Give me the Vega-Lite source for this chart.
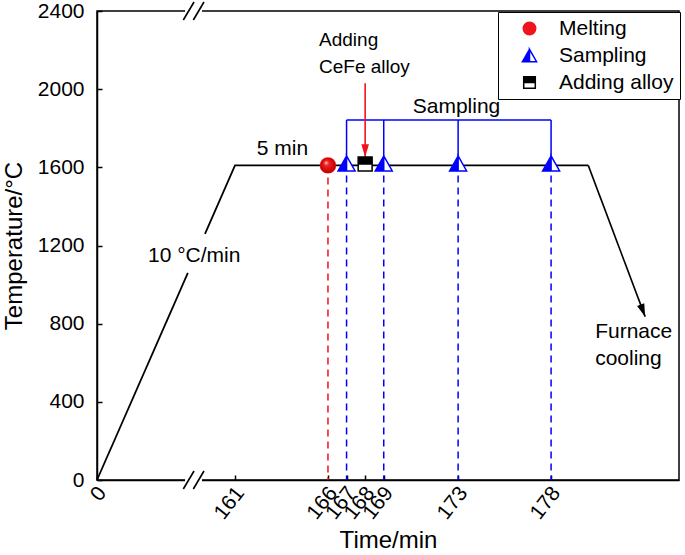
{
  "$schema": "https://vega.github.io/schema/vega-lite/v6.json",
  "width": 582,
  "height": 469,
  "autosize": {"type": "none"},
  "padding": {"left": 97, "top": 11, "right": 6, "bottom": 75},
  "background": "white",
  "config": {
    "font": "Liberation Sans",
    "view": {"stroke": "black", "strokeWidth": 1.5},
    "axis": {
      "grid": false,
      "domainColor": "black",
      "domainWidth": 1.5,
      "tickColor": "black",
      "tickWidth": 1.5,
      "tickSize": -5,
      "labelFont": "Liberation Sans",
      "labelFontSize": 21,
      "labelColor": "black",
      "titleFont": "Liberation Sans",
      "titleFontSize": 24,
      "titleFontWeight": "normal",
      "titleColor": "black",
      "labelOverlap": false,
      "labelFlush": false
    },
    "legend": {"labelFont": "Liberation Sans", "labelFontSize": 21, "labelColor": "black"}
  },
  "datasets": {
    "profile": [
      {"seg": "a", "time": 0, "temp": 0},
      {"seg": "a", "time": 106, "temp": 1060},
      {"seg": "b", "time": 126, "temp": 1260},
      {"seg": "b", "time": 161, "temp": 1610},
      {"seg": "b", "time": 180, "temp": 1610}
    ],
    "events": [
      {"event": "Melting", "time": 166, "temp": 1610},
      {"event": "Sampling", "time": 167, "temp": 1620},
      {"event": "Adding alloy", "time": 168, "temp": 1617},
      {"event": "Sampling", "time": 169, "temp": 1620},
      {"event": "Sampling", "time": 173, "temp": 1620},
      {"event": "Sampling", "time": 178, "temp": 1620}
    ],
    "arrows": [
      {"arrow": "CeFe", "time": 168, "temp": 2030, "time2": 168, "temp2": 1653},
      {"arrow": "cooling", "time": 180, "temp": 1610, "time2": 183.06, "temp2": 836}
    ],
    "notes": [
      {"note": "5 min", "time": 162.17, "temp": 1663},
      {"note": "10 °C/min", "time": 59.5, "temp": 1117},
      {"note": "Sampling", "time": 170.56, "temp": 1879},
      {"note": "Furnace", "time": 180.37, "temp": 725},
      {"note": "cooling", "time": 180.37, "temp": 588}
    ],
    "notesSmall": [
      {"note": "Adding", "time": 165.52, "temp": 2221},
      {"note": "CeFe alloy", "time": 165.52, "temp": 2081}
    ],
    "breakCover": [
      {"time": 102.7, "time2": 122.5, "temp": 2400},
      {"time": 102.7, "time2": 122.5, "temp": 0}
    ],
    "breakSlash": [
      {"time": 100.7, "time2": 113.2, "temp": 2354, "temp2": 2446},
      {"time": 112.4, "time2": 124.8, "temp": 2354, "temp2": 2446},
      {"time": 100.7, "time2": 113.2, "temp": -46, "temp2": 46},
      {"time": 112.4, "time2": 124.8, "temp": -46, "temp2": 46}
    ]
  },
  "layer": [
    {
      "data": {"name": "profile"},
      "mark": {"type": "line", "color": "black", "strokeWidth": 1.8},
      "encoding": {
        "x": {
          "field": "time",
          "type": "quantitative",
          "scale": {"domain": [0, 161, 184.88], "range": [0, 138, 582], "nice": false, "zero": false},
          "axis": {
            "title": "Time/min",
            "values": [0, 161, 166, 167, 168, 169, 173, 178],
            "format": "d",
            "labelAngle": -52,
            "labelAlign": "right",
            "labelBaseline": "middle",
            "labelPadding": 14,
            "labelOffset": 5,
            "titlePadding": 6
          }
        },
        "y": {
          "field": "temp",
          "type": "quantitative",
          "scale": {"domain": [0, 2400], "nice": false},
          "axis": {
            "title": "Temperature/°C",
            "values": [0, 400, 800, 1200, 1600, 2000, 2400],
            "format": "d",
            "labelPadding": 18,
            "titlePadding": 11
          }
        },
        "detail": {"field": "seg", "type": "nominal"}
      }
    },
    {
      "data": {"name": "events"},
      "transform": [{"filter": "datum.event !== 'Adding alloy'"}],
      "mark": {"type": "rule", "strokeWidth": 1.5, "strokeDash": [7, 5]},
      "encoding": {
        "x": {"field": "time", "type": "quantitative"},
        "y": {"field": "temp", "type": "quantitative"},
        "y2": {"datum": 0},
        "stroke": {"condition": {"test": "datum.event === 'Melting'", "value": "#f0141e"}, "value": "#0000ff"}
      }
    },
    {
      "data": {"name": "events"},
      "transform": [{"filter": "datum.event === 'Sampling'"}],
      "mark": {"type": "rule", "color": "#0000ff", "strokeWidth": 1.5},
      "encoding": {
        "x": {"field": "time", "type": "quantitative"},
        "y": {"datum": 1842, "type": "quantitative"},
        "y2": {"datum": 1659}
      }
    },
    {
      "data": {"name": "events"},
      "transform": [
        {"filter": "datum.event === 'Sampling'"},
        {"aggregate": [{"op": "min", "field": "time", "as": "tmin"}, {"op": "max", "field": "time", "as": "tmax"}]}
      ],
      "mark": {"type": "rule", "color": "#0000ff", "strokeWidth": 1.5},
      "encoding": {
        "x": {"field": "tmin", "type": "quantitative"},
        "x2": {"field": "tmax"},
        "y": {"datum": 1842, "type": "quantitative"}
      }
    },
    {
      "data": {"name": "arrows"},
      "mark": {"type": "rule", "strokeWidth": 1.6},
      "encoding": {
        "x": {"field": "time", "type": "quantitative"},
        "x2": {"field": "time2"},
        "y": {"field": "temp", "type": "quantitative"},
        "y2": {"field": "temp2"},
        "stroke": {"condition": {"test": "datum.arrow === 'CeFe'", "value": "#f0141e"}, "value": "black"}
      }
    },
    {
      "data": {"name": "arrows"},
      "mark": {"type": "point", "shape": "M0,0L-0.3,-1L0.3,-1Z", "size": 650, "filled": true, "opacity": 1, "strokeWidth": 0},
      "encoding": {
        "x": {"field": "time2", "type": "quantitative"},
        "y": {"field": "temp2", "type": "quantitative"},
        "fill": {"condition": {"test": "datum.arrow === 'CeFe'", "value": "#f0141e"}, "value": "black"},
        "angle": {"condition": {"test": "datum.arrow === 'cooling'", "value": 339.3}, "value": 0}
      }
    },
    {
      "data": {"name": "events"},
      "transform": [{"filter": "datum.event === 'Sampling'"}],
      "mark": {"type": "point", "shape": "M0,-0.88L1,0.88L-1,0.88Z", "size": 289, "filled": true, "fill": "white", "opacity": 1, "strokeWidth": 0},
      "encoding": {
        "x": {"field": "time", "type": "quantitative"},
        "y": {"field": "temp", "type": "quantitative"}
      }
    },
    {
      "data": {"name": "events"},
      "transform": [{"filter": "datum.event === 'Adding alloy'"}],
      "mark": {"type": "point", "shape": "M-0.82,-0.82L0.82,-0.82L0.82,0.82L-0.82,0.82Z", "size": 289, "filled": true, "fill": "white", "opacity": 1, "strokeWidth": 0},
      "encoding": {
        "x": {"field": "time", "type": "quantitative"},
        "y": {"field": "temp", "type": "quantitative"}
      }
    },
    {
      "data": {"name": "events"},
      "mark": {"type": "point", "filled": true, "size": 289, "strokeWidth": 1.5, "opacity": 1},
      "encoding": {
        "x": {"field": "time", "type": "quantitative"},
        "y": {"field": "temp", "type": "quantitative"},
        "fill": {
          "field": "event",
          "type": "nominal",
          "scale": {"domain": ["Melting", "Sampling", "Adding alloy"], "range": ["#f0141e", "#0000ff", "#000000"]},
          "legend": {"title": null, "orient": "none", "legendX": 401, "legendY": 1, "padding": 6, "rowPadding": 5, "symbolSize": 200, "symbolStrokeWidth": 1.5, "symbolOffset": 15, "labelOffset": 19, "fillColor": "white", "strokeColor": "black", "labelFontSize": 21, "labelFont": "Liberation Sans", "labelColor": "black"}
        },
        "stroke": {
          "field": "event",
          "type": "nominal",
          "scale": {"domain": ["Melting", "Sampling", "Adding alloy"], "range": ["#f0141e", "#0000ff", "#000000"]},
          "legend": {"title": null, "orient": "none", "legendX": 401, "legendY": 1, "padding": 6, "rowPadding": 5, "symbolSize": 200, "symbolStrokeWidth": 1.5, "symbolOffset": 15, "labelOffset": 19, "fillColor": "white", "strokeColor": "black", "labelFontSize": 21, "labelFont": "Liberation Sans", "labelColor": "black"}
        },
        "shape": {
          "field": "event",
          "type": "nominal",
          "scale": {
            "domain": ["Melting", "Sampling", "Adding alloy"],
            "range": [
              "M0.88,0A0.88,0.88,0,1,1,-0.88,0A0.88,0.88,0,1,1,0.88,0Z",
              "M0,-0.88L1,0.88L-1,0.88Z M0,-0.88L0,0.88L1,0.88Z",
              "M-0.82,-0.82L0.82,-0.82L0.82,0.82L-0.82,0.82Z M-0.82,0L-0.82,0.82L0.82,0.82L0.82,0Z"
            ]
          },
          "legend": {"title": null, "orient": "none", "legendX": 401, "legendY": 1, "padding": 6, "rowPadding": 5, "symbolSize": 200, "symbolStrokeWidth": 1.5, "symbolOffset": 15, "labelOffset": 19, "fillColor": "white", "strokeColor": "black", "labelFontSize": 21, "labelFont": "Liberation Sans", "labelColor": "black"}
        }
      }
    },
    {
      "data": {"name": "events"},
      "transform": [{"filter": "datum.event === 'Melting'"}],
      "mark": {
        "type": "point",
        "shape": "M0.88,0A0.88,0.88,0,1,1,-0.88,0A0.88,0.88,0,1,1,0.88,0Z",
        "size": 289,
        "filled": true,
        "opacity": 1,
        "strokeWidth": 0,
        "fill": {
          "gradient": "radial",
          "x1": 0.36, "y1": 0.3, "r1": 0,
          "x2": 0.5, "y2": 0.5, "r2": 0.55,
          "stops": [
            {"offset": 0, "color": "#ffd6d6"},
            {"offset": 0.3, "color": "#f52020"},
            {"offset": 1, "color": "#b00000"}
          ]
        }
      },
      "encoding": {
        "x": {"field": "time", "type": "quantitative"},
        "y": {"field": "temp", "type": "quantitative"}
      }
    },
    {
      "data": {"name": "notes"},
      "mark": {"type": "text", "align": "left", "baseline": "alphabetic", "fontSize": 21, "font": "Liberation Sans", "color": "black"},
      "encoding": {
        "x": {"field": "time", "type": "quantitative"},
        "y": {"field": "temp", "type": "quantitative"},
        "text": {"field": "note"}
      }
    },
    {
      "data": {"name": "notesSmall"},
      "mark": {"type": "text", "align": "left", "baseline": "alphabetic", "fontSize": 19, "font": "Liberation Sans", "color": "black"},
      "encoding": {
        "x": {"field": "time", "type": "quantitative"},
        "y": {"field": "temp", "type": "quantitative"},
        "text": {"field": "note"}
      }
    },
    {
      "data": {"name": "breakCover"},
      "mark": {"type": "rule", "color": "white", "strokeWidth": 4},
      "encoding": {
        "x": {"field": "time", "type": "quantitative"},
        "x2": {"field": "time2"},
        "y": {"field": "temp", "type": "quantitative"}
      }
    },
    {
      "data": {"name": "breakSlash"},
      "mark": {"type": "rule", "color": "black", "strokeWidth": 1.6},
      "encoding": {
        "x": {"field": "time", "type": "quantitative"},
        "x2": {"field": "time2"},
        "y": {"field": "temp", "type": "quantitative"},
        "y2": {"field": "temp2"}
      }
    }
  ]
}
